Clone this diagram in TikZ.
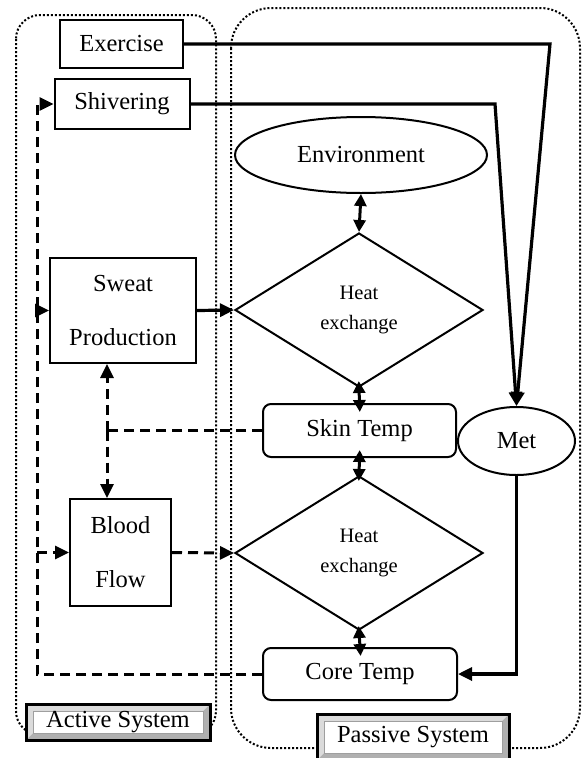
\documentclass[tikz,border=0pt]{standalone}
\usepackage{fontspec}
\setmainfont{Liberation Serif}
\usepackage{xcolor}
\usepackage{tikz}
\usetikzlibrary{arrows.meta,shapes.geometric}

\begin{document}
\begin{tikzpicture}[x=1pt,y=-1pt,every node/.style={font=\fontsize{24.5}{28}\selectfont},
box/.style={draw,line width=2pt,fill=white,align=center,inner sep=0pt},
rbox/.style={box,rounded corners=8pt,minimum width=193,minimum height=53},
oval/.style={draw,line width=2pt,fill=white,ellipse,inner sep=0pt},
dmd/.style={draw,line width=2pt,fill=white,diamond,aspect=1.6,inner sep=0pt,minimum width=248,minimum height=154,align=center,font=\fontsize{20.5}{30}\selectfont},
twoline/.style={font=\fontsize{24.5}{54}\selectfont},
sysframe/.style={line width=2pt,dash pattern=on 2pt off 2pt},
sysbox/.style={draw=black,line width=3pt,fill=gray!62,inner sep=0pt,
  path picture={
    \fill[gray!28] (path picture bounding box.north west) -- (path picture bounding box.north east)
      -- ([xshift=-7pt,yshift=-7pt]path picture bounding box.north east) -- ([xshift=7pt,yshift=-7pt]path picture bounding box.north west)
      -- ([xshift=7pt,yshift=7pt]path picture bounding box.south west) -- (path picture bounding box.south west) -- cycle;
    \filldraw[fill=white,draw=gray!75,line width=0.6pt] ([xshift=7pt,yshift=-7pt]path picture bounding box.north west) rectangle ([xshift=-7pt,yshift=7pt]path picture bounding box.south east);
  }},
arr/.style={-{Triangle[length=14pt,width=13pt]},line width=3.2pt},
darr/.style={{Triangle[length=12pt,width=12pt]}-{Triangle[length=12pt,width=12pt]},line width=3pt},
fbarr/.style={-{Triangle[length=14pt,width=13pt]},line width=3pt,dash pattern=on 10pt off 6pt},
fbline/.style={line width=3pt,dash pattern=on 10pt off 6pt}]
\useasboundingbox (0,0) rectangle (583,758);
% system frames
\draw[sysframe,rounded corners=24pt] (16,15) rectangle (216,735);
\draw[sysframe,rounded corners=40pt] (231,8) rectangle (580,748);
% active side
\node[box,minimum width=123,minimum height=48] (exer) at (121.5,44) {Exercise};
\node[box,minimum width=135,minimum height=50] (shiv) at (122,104) {Shivering};
\node[box,twoline,minimum width=146,minimum height=105] (sweat) at (123,310.5) {Sweat\\Production};
\node[box,twoline,minimum width=101,minimum height=107] (blood) at (120.5,552.5) {Blood\\Flow};
% passive side
\node[oval,minimum width=252,minimum height=76] (env) at (361,155) {Environment};
\node[dmd] (hx1) at (359,310) {Heat\\exchange};
\node[rbox] (skin) at (359.5,430.5) {Skin Temp};
\node[dmd] (hx2) at (359,553) {Heat\\exchange};
\node[rbox,minimum width=194,minimum height=52] (core) at (360,674) {Core Temp};
\node[oval,minimum width=117,minimum height=68] (met) at (516.5,441) {Met};
% labels
\node[sysbox,minimum width=184,minimum height=36] (actlbl) at (118,722) {Active System};
\node[sysbox,minimum width=192,minimum height=46] (paslbl) at (413,737) {Passive System};
% heat load
\coordinate (exc) at (550,44);
\coordinate (shc) at (495,104);
\draw[arr] (exer.east) -- (exc) -- (met.north);
\draw[arr] (shiv.east) -- (shc) -- (met.north);
\draw[arr] (met.south) -- (met.south |- core.east) -- (core.east);
% exchange chain
\draw[darr] (env.south) -- (hx1.north);
\draw[darr,shorten <=-7pt,shorten >=-9pt] (hx1.south) -- (skin.north);
\draw[darr,shorten <=-8pt,shorten >=-6pt] (skin.south) -- (hx2.north);
\draw[darr,shorten <=-5pt,shorten >=-9pt] (hx2.south) -- (core.north);
\draw[arr] (sweat.east) -- (hx1.west);
\draw[fbarr] (blood.east) -- (hx2.west);
% feedback from skin
\coordinate (skfb) at (107,430.5);
\draw[fbline] (skin.west) -- (skfb);
\draw[fbarr] (skfb) -- (skfb |- sweat.south);\draw[fbarr] (skfb) -- (skfb |- blood.north);
% feedback from core
\coordinate (cofb) at (37,674);
\draw[fbarr] (core.west) -- (cofb) -- (cofb |- shiv.west) -- (shiv.west);
\draw[fbarr] (cofb |- sweat.west) -- (sweat.west);
\draw[fbarr] (cofb |- blood.west) -- (blood.west);
\end{tikzpicture}
\end{document}
